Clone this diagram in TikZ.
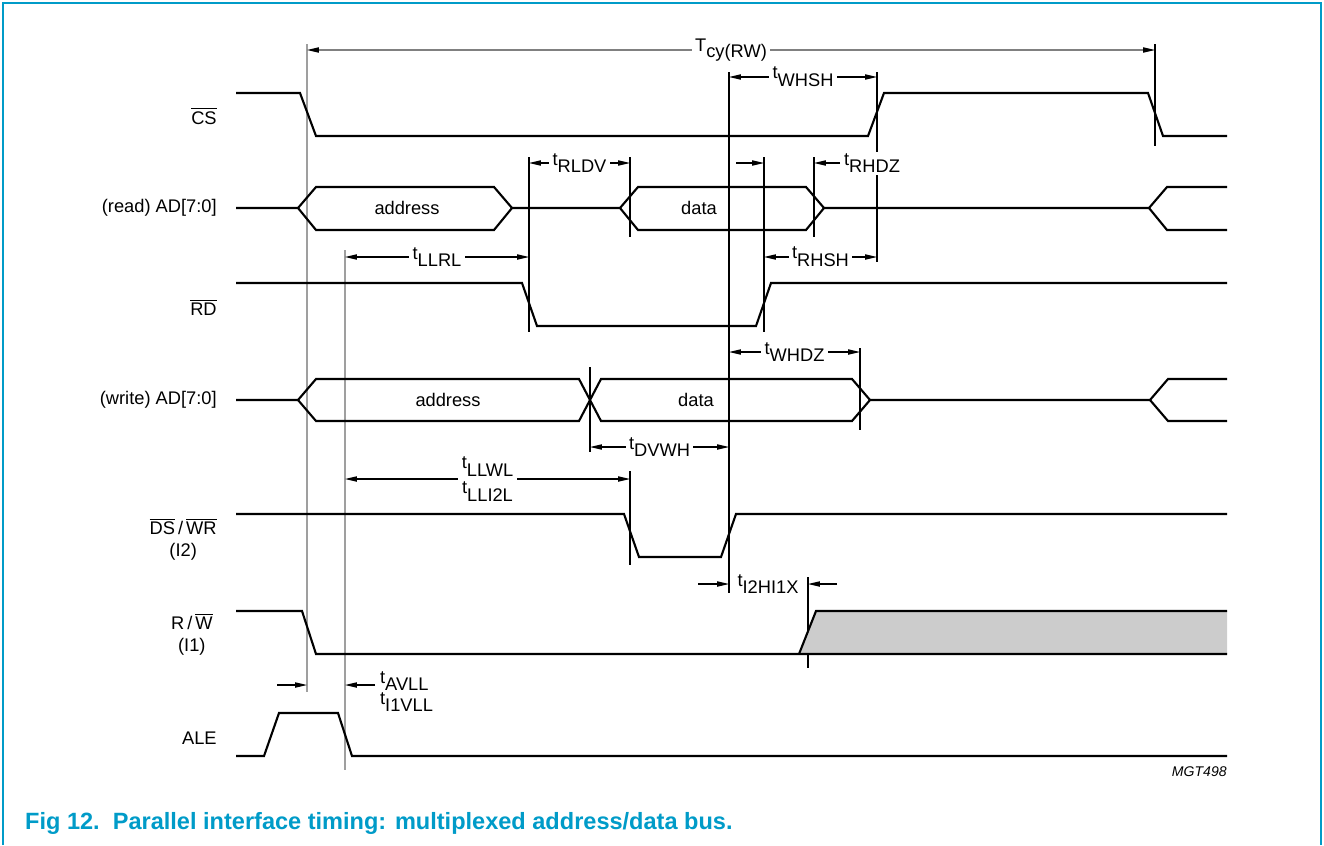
\documentclass[tikz,border=0pt]{standalone}
\usepackage{fontspec}
\setmainfont{Liberation Sans}
\usetikzlibrary{positioning,calc,arrows.meta}
\definecolor{capblue}{RGB}{0,155,200}

\tikzset{
  sig/.style={line width=1.2pt},
  refl/.style={line width=0.6pt},
  greyref/.style={line width=0.6pt, draw=gray!75},
  dim/.style={line width=0.6pt, {Triangle[length=6.8pt,width=3pt,color=black]}-{Triangle[length=6.8pt,width=3pt,color=black]}},
  onedim/.style={line width=0.6pt, -{Triangle[length=6.8pt,width=3pt]}},
  tlabel/.style={fill=white, inner xsep=2pt, inner ysep=0pt},
  siglabel/.style={anchor=east, align=center, inner sep=0pt},
}

\begin{document}
\begin{tikzpicture}[x=0.02cm, y=-0.02cm, font=\fontsize{10.4}{12.5}\selectfont]

				% geometry
				\useasboundingbox (0,0) rectangle (1324,845);
				\newcommand{\tm}[1]{t\raisebox{-0.42em}{#1}}

				% frame and caption
				\draw[capblue, line width=1pt] (3,845) -- (3,3) -- (1321,3) -- (1321,845);
				\node[anchor=base west, text=capblue, font=\fontsize{13.4}{15}\selectfont\bfseries] (caption) at (19,829)
				{Fig 12.\ \ Parallel interface timing: multiplexed address/data bus.};
				\node[anchor=east, inner sep=0pt, font=\fontsize{8}{9}\selectfont\itshape] (mgt) at (1227,772) {MGT498};

				% signal names
				\node[siglabel] (lCS) at (217,116) {$\overline{\mbox{CS}}$};
				\node[siglabel] (lRAD) at (217,208) {(read) AD[7:0]};
				\node[siglabel] (lRD) at (217,307) {$\overline{\mbox{RD}}$};
				\node[siglabel] (lWAD) at (217,400) {(write) AD[7:0]};
				\node[siglabel] (lDS) at (217,539) {$\overline{\mbox{DS}}$\,/\,$\overline{\mbox{WR}}$\\(I2)};
				\node[siglabel] (lRW) at (213,634) {R\,/\,$\overline{\mbox{W}}$\\(I1)};
				\node[siglabel] (lALE) at (217,738) {ALE};

				% reference lines
				\draw[greyref] (307,44) -- (307,692);
				\draw[greyref] (345,250) -- (345,770);
				\draw[refl] (1155,44) -- (1155,146);
				\draw[refl] (529,157) -- (529,332);
				\draw[refl] (630,157) -- (630,237);
				\draw[refl] (630,471) -- (630,565);
				\draw[refl] (729,72) -- (729,593);
				\draw[refl] (764,157) -- (764,332);
				\draw[refl] (814,157) -- (814,237);
				\draw[refl] (877,72) -- (877,262);
				\draw[refl] (860,348) -- (860,430);
				\draw[refl] (590,367) -- (590,452);
				\draw[refl] (808,577) -- (808,668);

				% waveforms
				\draw[sig] (236,93) -- (300,93) -- (316,136) -- (868,136) -- (884,93) -- (1148,93) -- (1163,136) -- (1227,136);

				\draw[sig] (236,208) -- (298,208) -- (316,187) -- (494,187) -- (512,208) -- (494,230) -- (316,230) -- (298,208);
				\draw[sig] (512,208) -- (620,208) -- (638,187) -- (806,187) -- (824,208) -- (806,230) -- (638,230) -- (620,208);
				\draw[sig] (824,208) -- (1149,208) -- (1167,187) -- (1227,187);
				\draw[sig] (1149,208) -- (1167,230) -- (1227,230);
				\node (rAddr) at (407,208) {address};
				\node (rData) at (699,208) {data};

				\draw[sig] (236,283) -- (522,283) -- (537,326) -- (756,326) -- (771,283) -- (1227,283);

				\draw[sig] (236,400) -- (298,400) -- (316,379) -- (579,379) -- (601,421) -- (852,421) -- (870,400) -- (1150,400) -- (1168,379) -- (1227,379);
				\draw[sig] (298,400) -- (316,421) -- (579,421) -- (601,379) -- (852,379) -- (870,400);
				\draw[sig] (1150,400) -- (1168,421) -- (1227,421);
				\node (wAddr) at (448,400) {address};
				\node (wData) at (696,400) {data};

				\draw[sig] (236,514) -- (624,514) -- (639,557) -- (721,557) -- (736,514) -- (1227,514);

				\fill[gray!40] (799,654) -- (816,611) -- (1227,611) -- (1227,654) -- cycle;
				\draw[sig] (236,611) -- (302,611) -- (316,654) -- (1227,654);
				\draw[sig] (799,654) -- (816,611) -- (1227,611);

				\draw[sig] (236,756) -- (264,756) -- (279,713) -- (338,713) -- (352,756) -- (1227,756);

				% timing parameters
				\draw[dim, draw=gray] (307,50) -- node[tlabel, text=black] (tCY) {T\raisebox{-0.35em}{cy(RW)}} (1155,50);
				\draw[dim] (729,77) -- node[tlabel] (tWHSH) {\tm{WHSH}} (877,77);
				\draw[dim] (529,163) -- node[tlabel] (tRLDV) {\tm{RLDV}} (630,163);
				\draw[onedim] (736,163) -- (764,163);
				\draw[onedim] (840,163) -- (814,163);
				\node[anchor=west, fill=white, inner sep=1pt] (tRHDZ) at (842,163) {\tm{RHDZ}};
				\draw[dim] (345,257) -- node[tlabel] (tLLRL) {\tm{LLRL}} (529,257);
				\draw[dim] (764,257) -- node[tlabel] (tRHSH) {\tm{RHSH}} (877,257);
				\draw[dim] (729,352) -- node[tlabel] (tWHDZ) {\tm{WHDZ}} (860,352);
				\draw[dim] (590,447) -- node[tlabel] (tDVWH) {\tm{DVWH}} (729,447);
				\draw[dim] (345,479) -- node[tlabel, align=center] (tLLWL) {\tm{LLWL}\\[2pt]\tm{LLI2L}} (630,479);
				\draw[onedim] (698,584) -- (729,584);
				\draw[onedim] (837,584) -- (808,584);
				\node[inner sep=1pt] (tI2HI1X) at (768,584) {\tm{I2HI1X}};
				\draw[onedim] (277,685) -- (307,685);
				\draw[onedim] (375,685) -- (345,685);
				\node[anchor=west, inner sep=1pt] (tAVLL) at (378,681) {\tm{AVLL}};
				\node[anchor=west, inner sep=1pt] (tIVLL) at (378,702) {\tm{I1VLL}};

\end{tikzpicture}
\end{document}
